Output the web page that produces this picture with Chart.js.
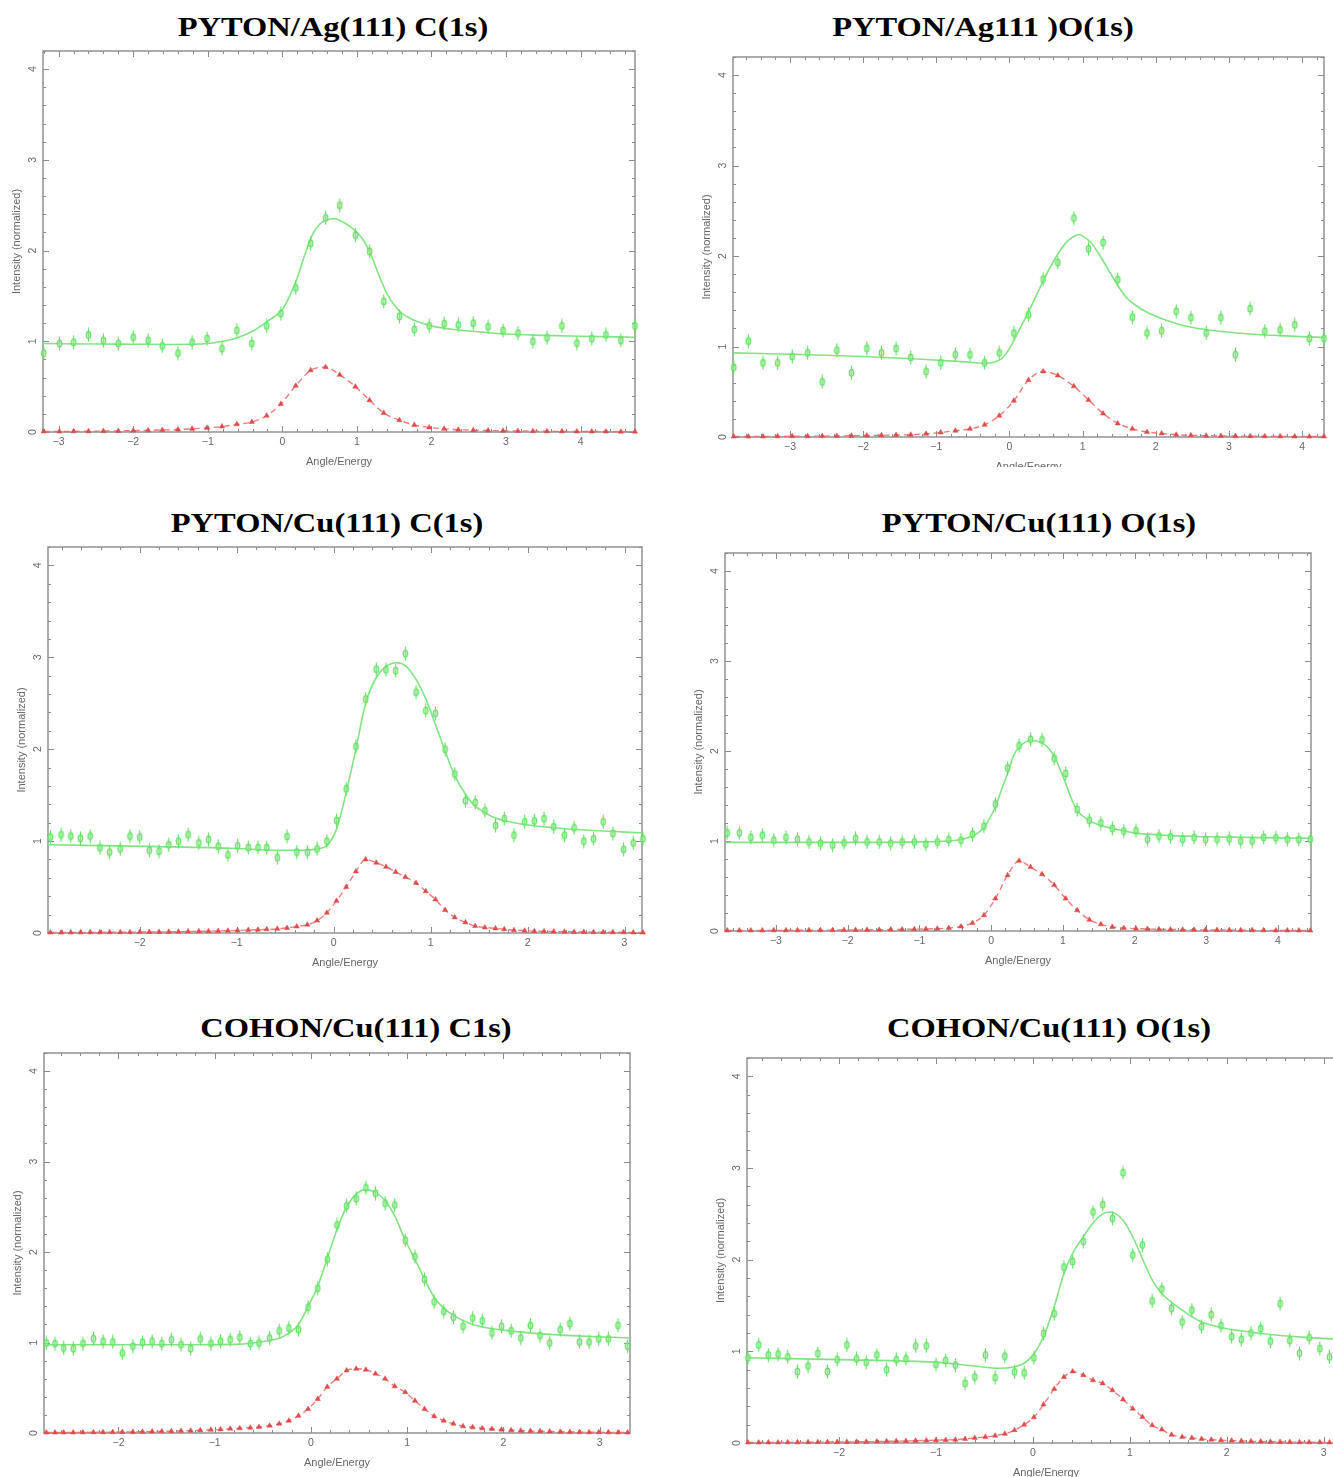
<!DOCTYPE html>
<html><head><meta charset="utf-8">
<script src="https://cdn.jsdelivr.net/npm/chart.js@4.4.1/dist/chart.umd.min.js"></script>
<style>
html,body{margin:0;padding:0;background:#fff;overflow:hidden;width:1333px;height:1477px;position:relative;}
.ttl{position:absolute;font-family:"Liberation Serif","Times New Roman",serif;font-weight:bold;font-size:28px;white-space:nowrap;transform:translate(-50%,-50%) scaleX(1.16);color:#000;line-height:1;}
canvas{position:absolute;}
</style></head><body>
<script>
// ---------------- DATA ----------------
const titles = ["PYTON/Ag(111) C(1s)", "PYTON/Ag111 )O(1s)", "PYTON/Cu(111) C(1s)", "PYTON/Cu(111) O(1s)", "COHON/Cu(111) C1s)", "COHON/Cu(111) O(1s)"];
const xTitle = "Angle/Energy";
const yTitle = "Intensity (normalized)";
const yTicks = [0, 1, 2, 3, 4];
const xTicks1 = [-3, -2, -1, 0, 1, 2, 3, 4];
const xTicks2 = [-3, -2, -1, 0, 1, 2, 3, 4];
const xTicks3 = [-2, -1, 0, 1, 2, 3];
const xTicks4 = [-3, -2, -1, 0, 1, 2, 3, 4];
const xTicks5 = [-2, -1, 0, 1, 2, 3];
const xTicks6 = [-2, -1, 0, 1, 2, 3];

// Panel 1: PYTON/Ag(111) C(1s)
const p1X = [-3.20,-2.99,-2.80,-2.60,-2.40,-2.20,-2.00,-1.80,-1.61,-1.40,-1.21,-1.01,-0.81,-0.61,-0.41,-0.21,-0.02,0.18,0.38,0.58,0.77,0.98,1.17,1.36,1.57,1.77,1.97,2.17,2.36,2.56,2.76,2.96,3.16,3.36,3.55,3.75,3.95,4.15,4.34,4.54,4.73];
const p1Exp = [0.87,0.975,0.99,1.07,1.01,0.975,1.045,1.01,0.95,0.87,0.99,1.03,0.92,1.12,0.975,1.17,1.305,1.59,2.08,2.36,2.50,2.17,1.99,1.44,1.275,1.13,1.17,1.195,1.18,1.20,1.16,1.12,1.09,1.00,1.04,1.17,0.98,1.03,1.07,1.01,1.17];
const p1Sim = [0.005,0.005,0.007,0.008,0.01,0.012,0.015,0.018,0.022,0.027,0.035,0.045,0.06,0.085,0.11,0.18,0.31,0.51,0.68,0.715,0.63,0.50,0.35,0.21,0.13,0.077,0.05,0.035,0.025,0.02,0.016,0.013,0.011,0.009,0.008,0.007,0.006,0.005,0.005,0.004,0.004];
const p1FitX = [-3.21,-2.5,-2.0,-1.5,-1.0,-0.8,-0.6,-0.4,-0.2,0.0,0.1,0.2,0.3,0.4,0.5,0.6,0.7,0.8,0.9,1.0,1.1,1.2,1.3,1.4,1.5,1.6,1.7,1.8,2.0,2.3,2.7,3.0,3.5,4.0,4.73];
const p1FitY = [0.975,0.97,0.968,0.965,0.975,1.0,1.04,1.11,1.22,1.35,1.5,1.7,1.95,2.17,2.29,2.34,2.35,2.32,2.27,2.2,2.1,1.93,1.72,1.53,1.40,1.31,1.26,1.22,1.17,1.13,1.10,1.08,1.065,1.055,1.045];

// Panel 2: PYTON/Ag111 )O(1s)
const p2X = [-3.77,-3.57,-3.37,-3.17,-2.97,-2.76,-2.56,-2.36,-2.16,-1.95,-1.75,-1.55,-1.35,-1.14,-0.94,-0.74,-0.54,-0.34,-0.14,0.06,0.26,0.46,0.66,0.88,1.08,1.28,1.48,1.68,1.88,2.08,2.28,2.48,2.69,2.89,3.09,3.29,3.49,3.70,3.90,4.10,4.30];
const p2Exp = [0.77,1.06,0.82,0.82,0.89,0.93,0.61,0.96,0.71,0.98,0.93,0.98,0.88,0.725,0.82,0.91,0.91,0.82,0.93,1.15,1.35,1.745,1.93,2.42,2.08,2.15,1.74,1.325,1.15,1.175,1.39,1.32,1.15,1.32,0.91,1.42,1.17,1.185,1.24,1.09,1.09];
const p2Sim = [0.005,0.005,0.006,0.007,0.008,0.009,0.01,0.012,0.014,0.016,0.02,0.022,0.025,0.035,0.05,0.07,0.09,0.135,0.235,0.40,0.63,0.725,0.68,0.56,0.41,0.26,0.15,0.09,0.055,0.04,0.025,0.018,0.014,0.012,0.01,0.009,0.008,0.007,0.006,0.005,0.005];
const p2FitX = [-3.78,-3.0,-2.0,-1.2,-0.6,-0.35,-0.2,-0.1,0.0,0.1,0.2,0.3,0.4,0.5,0.6,0.7,0.8,0.9,0.95,1.0,1.1,1.2,1.3,1.4,1.5,1.6,1.7,1.9,2.3,2.7,3.1,3.7,4.3];
const p2FitY = [0.93,0.915,0.89,0.86,0.83,0.815,0.83,0.87,0.98,1.13,1.29,1.45,1.62,1.79,1.94,2.07,2.17,2.225,2.235,2.22,2.16,2.05,1.92,1.78,1.65,1.54,1.47,1.37,1.25,1.185,1.15,1.12,1.10];

// Panel 3: PYTON/Cu(111) C(1s)
const p3X = [-2.92,-2.81,-2.71,-2.61,-2.51,-2.41,-2.31,-2.20,-2.10,-2.00,-1.90,-1.80,-1.70,-1.60,-1.50,-1.39,-1.29,-1.19,-1.09,-0.99,-0.88,-0.78,-0.69,-0.58,-0.48,-0.38,-0.27,-0.17,-0.07,0.03,0.13,0.23,0.33,0.44,0.54,0.64,0.74,0.85,0.95,1.05,1.15,1.25,1.36,1.46,1.56,1.67,1.76,1.86,1.97,2.07,2.17,2.27,2.38,2.48,2.58,2.68,2.78,2.88,2.99,3.09,3.19];
const p3Exp = [1.044,1.069,1.055,1.03,1.055,0.927,0.88,0.916,1.055,1.044,0.90,0.89,0.96,1.00,1.07,0.98,1.02,0.945,0.85,0.95,0.93,0.93,0.93,0.82,1.05,0.88,0.88,0.916,1.00,1.225,1.57,2.03,2.545,2.87,2.865,2.855,3.04,2.62,2.42,2.39,2.0,1.73,1.44,1.42,1.33,1.17,1.245,1.065,1.21,1.22,1.245,1.156,1.065,1.145,1.00,1.025,1.21,1.084,0.91,0.98,1.025];
const p3Sim = [0.005,0.005,0.006,0.006,0.007,0.007,0.008,0.008,0.009,0.01,0.011,0.012,0.013,0.014,0.016,0.018,0.02,0.022,0.025,0.028,0.032,0.036,0.04,0.045,0.055,0.07,0.09,0.135,0.22,0.35,0.50,0.67,0.80,0.765,0.72,0.665,0.61,0.545,0.455,0.365,0.25,0.17,0.115,0.075,0.06,0.05,0.04,0.03,0.025,0.02,0.018,0.016,0.014,0.012,0.011,0.01,0.009,0.008,0.007,0.006,0.005];
const p3FitX = [-2.945,-1.8,-1.0,-0.6,-0.3,-0.17,-0.07,0.03,0.13,0.23,0.33,0.44,0.54,0.65,0.74,0.85,0.95,1.05,1.15,1.25,1.36,1.46,1.56,1.67,1.86,2.27,2.68,3.18];
const p3FitY = [0.96,0.94,0.92,0.9,0.9,0.915,0.95,1.13,1.53,2.0,2.5,2.78,2.9,2.94,2.91,2.76,2.55,2.27,1.98,1.71,1.51,1.38,1.31,1.25,1.2,1.145,1.115,1.09];

// Panel 4: PYTON/Cu(111) O(1s)
const p4X = [-3.68,-3.51,-3.35,-3.19,-3.03,-2.86,-2.70,-2.54,-2.38,-2.21,-2.05,-1.89,-1.73,-1.56,-1.40,-1.24,-1.07,-0.91,-0.75,-0.59,-0.42,-0.26,-0.10,0.06,0.23,0.39,0.55,0.71,0.88,1.04,1.20,1.37,1.53,1.69,1.85,2.02,2.18,2.34,2.50,2.67,2.83,2.99,3.15,3.32,3.48,3.64,3.80,3.97,4.13,4.29,4.45];
const p4Exp = [1.09,1.09,1.04,1.065,1.01,1.04,1.02,0.99,0.975,0.955,0.98,1.03,0.99,0.99,0.975,0.99,0.99,0.965,0.99,1.015,1.01,1.075,1.165,1.41,1.81,2.06,2.13,2.125,1.92,1.75,1.35,1.23,1.2,1.14,1.11,1.115,1.02,1.055,1.047,1.02,1.04,1.017,1.02,1.025,1.0,1.0,1.04,1.036,1.02,1.017,1.02];
const p4Sim = [0.005,0.005,0.006,0.006,0.007,0.007,0.008,0.008,0.009,0.01,0.011,0.012,0.013,0.014,0.016,0.018,0.02,0.022,0.026,0.033,0.05,0.09,0.175,0.36,0.62,0.78,0.71,0.63,0.51,0.36,0.23,0.126,0.074,0.045,0.033,0.026,0.022,0.019,0.017,0.015,0.013,0.012,0.011,0.01,0.009,0.008,0.007,0.006,0.006,0.005,0.005];
const p4FitX = [-3.71,-2.0,-1.0,-0.6,-0.4,-0.26,-0.1,0.06,0.15,0.23,0.32,0.4,0.55,0.71,0.8,0.88,0.96,1.04,1.12,1.2,1.36,1.5,1.69,2.0,2.5,3.0,4.46];
const p4FitY = [0.985,0.985,0.99,1.0,1.02,1.055,1.15,1.38,1.58,1.75,1.96,2.05,2.12,2.09,2.03,1.94,1.8,1.64,1.47,1.34,1.23,1.18,1.14,1.09,1.06,1.047,1.03];

// Panel 5: COHON/Cu(111) C1s)
const p5X = [-2.75,-2.66,-2.57,-2.47,-2.37,-2.26,-2.16,-2.06,-1.96,-1.85,-1.75,-1.65,-1.55,-1.45,-1.35,-1.25,-1.15,-1.04,-0.94,-0.84,-0.74,-0.63,-0.54,-0.43,-0.33,-0.23,-0.13,-0.03,0.07,0.17,0.27,0.37,0.47,0.57,0.67,0.77,0.87,0.98,1.08,1.18,1.28,1.38,1.48,1.58,1.68,1.78,1.88,1.98,2.08,2.18,2.28,2.38,2.48,2.59,2.69,2.79,2.89,2.99,3.09,3.19,3.29];
const p5Exp = [0.995,0.988,0.94,0.933,0.988,1.043,1.014,1.006,0.885,0.96,1.003,1.014,0.988,1.032,0.977,0.933,1.04,0.988,1.014,1.032,1.058,0.988,0.995,1.05,1.13,1.16,1.143,1.39,1.60,1.92,2.30,2.51,2.59,2.71,2.65,2.54,2.52,2.13,1.95,1.70,1.45,1.345,1.28,1.18,1.27,1.24,1.106,1.18,1.13,1.05,1.19,1.076,0.995,1.143,1.21,1.006,1.006,1.04,1.04,1.19,0.96];
const p5Sim = [0.005,0.005,0.006,0.006,0.007,0.008,0.009,0.01,0.011,0.012,0.014,0.016,0.018,0.02,0.023,0.026,0.03,0.035,0.04,0.048,0.052,0.059,0.066,0.08,0.103,0.136,0.19,0.265,0.376,0.51,0.6,0.69,0.71,0.70,0.656,0.60,0.516,0.45,0.357,0.265,0.184,0.136,0.103,0.074,0.063,0.052,0.044,0.037,0.03,0.026,0.022,0.019,0.016,0.014,0.012,0.01,0.009,0.008,0.007,0.006,0.005];
const p5FitX = [-2.77,-1.5,-0.8,-0.6,-0.45,-0.3,-0.13,-0.03,0.07,0.17,0.27,0.37,0.47,0.57,0.67,0.77,0.87,0.98,1.08,1.18,1.28,1.38,1.48,1.68,1.98,2.48,3.31];
const p5FitY = [0.975,0.975,0.98,0.995,1.02,1.06,1.2,1.4,1.62,1.93,2.25,2.5,2.64,2.69,2.66,2.57,2.4,2.13,1.92,1.7,1.5,1.38,1.3,1.2,1.14,1.09,1.05];

// Panel 6: COHON/Cu(111) O(1s)
const p6X = [-2.94,-2.83,-2.73,-2.63,-2.53,-2.43,-2.32,-2.22,-2.12,-2.02,-1.92,-1.82,-1.72,-1.61,-1.51,-1.41,-1.31,-1.21,-1.10,-1.00,-0.90,-0.80,-0.70,-0.60,-0.49,-0.39,-0.29,-0.19,-0.09,0.01,0.11,0.22,0.32,0.41,0.52,0.62,0.72,0.82,0.93,1.03,1.13,1.23,1.33,1.43,1.54,1.64,1.74,1.84,1.94,2.05,2.15,2.25,2.35,2.45,2.55,2.65,2.75,2.85,2.96,3.06];
const p6Exp = [0.93,1.07,0.96,0.97,0.94,0.78,0.84,0.976,0.78,0.91,1.07,0.92,0.88,0.96,0.80,0.91,0.92,1.06,1.06,0.856,0.90,0.85,0.65,0.72,0.96,0.714,0.947,0.776,0.765,0.93,1.195,1.41,1.92,1.98,2.20,2.52,2.60,2.45,2.95,2.05,2.16,1.55,1.68,1.47,1.32,1.45,1.27,1.40,1.28,1.16,1.13,1.20,1.25,1.11,1.52,1.12,0.98,1.15,1.03,0.94];
const p6Sim = [0.005,0.005,0.006,0.006,0.007,0.007,0.008,0.009,0.01,0.011,0.012,0.013,0.014,0.016,0.018,0.02,0.022,0.025,0.028,0.031,0.033,0.036,0.044,0.055,0.066,0.08,0.1,0.14,0.2,0.28,0.42,0.59,0.72,0.78,0.74,0.685,0.65,0.575,0.475,0.375,0.284,0.193,0.146,0.09,0.066,0.055,0.044,0.036,0.03,0.026,0.022,0.019,0.016,0.014,0.012,0.01,0.009,0.008,0.007,0.006];
const p6FitX = [-2.95,-2.0,-1.0,-0.6,-0.35,-0.2,-0.09,0.01,0.11,0.22,0.32,0.41,0.52,0.62,0.72,0.8,0.93,1.03,1.13,1.23,1.33,1.54,1.74,1.94,2.35,2.85,3.22];
const p6FitY = [0.93,0.91,0.88,0.84,0.815,0.83,0.87,0.97,1.16,1.49,1.85,2.07,2.25,2.4,2.5,2.52,2.43,2.25,2.01,1.78,1.63,1.45,1.32,1.26,1.195,1.15,1.13];

// ---------------- LAYOUT (page px) ----------------
const panels = [
  {title: titles[0], tc:[333,27], box:[42.5,51,634,432], xr:[-3.21,4.73], xt:xTicks1, X:p1X, E:p1Exp, S:p1Sim, FX:p1FitX, FY:p1FitY},
  {title: titles[1], tc:[983,27], box:[732.5,57,1323,437], xr:[-3.78,4.30], xt:xTicks2, X:p2X, E:p2Exp, S:p2Sim, FX:p2FitX, FY:p2FitY, cutBottom:467},
  {title: titles[2], tc:[327,523], box:[48,547,642,933], xr:[-2.945,3.18], xt:xTicks3, X:p3X, E:p3Exp, S:p3Sim, FX:p3FitX, FY:p3FitY},
  {title: titles[3], tc:[1039,523], box:[725,553,1311,931], xr:[-3.71,4.46], xt:xTicks4, X:p4X, E:p4Exp, S:p4Sim, FX:p4FitX, FY:p4FitY},
  {title: titles[4], tc:[356,1028], box:[44,1053,629.5,1433], xr:[-2.774,3.315], xt:xTicks5, X:p5X, E:p5Exp, S:p5Sim, FX:p5FitX, FY:p5FitY},
  {title: titles[5], tc:[1049,1028], box:[747,1058,1345,1443], xr:[-2.95,3.22], xt:xTicks6, X:p6X, E:p6Exp, S:p6Sim, FX:p6FitX, FY:p6FitY}
];

const GREEN = '#62e062';
const GREEN_LINE = '#80e580';
const RED = '#e04a4a';
const RED_LINE = 'rgba(235,110,110,0.9)';

// green data marker: small ellipse with an error bar
function makeMarker() {
  const c = document.createElement('canvas');
  c.width = 9; c.height = 15;
  const g = c.getContext('2d');
  g.strokeStyle = GREEN; g.lineWidth = 1.1;
  g.beginPath(); g.moveTo(4.5, 0.5); g.lineTo(4.5, 14.5); g.stroke();
  g.fillStyle = 'rgba(150,235,150,0.6)';
  g.beginPath(); g.ellipse(4.5, 7.5, 2.3, 3.4, 0, 0, Math.PI*2); g.fill(); g.stroke();
  return c;
}
const marker = makeMarker();

function fmt(v) { return v < 0 ? '\u2212' + Math.abs(v) : String(v); }

const framePlugin = {
  id: 'frame',
  beforeDatasetsDraw(chart, args, o) {
    const {ctx, chartArea: a} = chart;
    const x = chart.scales.x, y = chart.scales.y;
    ctx.save();
    ctx.strokeStyle = '#8a8a8a';
    ctx.lineWidth = 1.4;
    ctx.strokeRect(a.left, a.top, a.right - a.left, a.bottom - a.top);
    ctx.lineWidth = 1;
    ctx.beginPath();
    const x0 = Math.ceil(x.min * 5 - 1e-6);
    for (let k = x0; k / 5 <= x.max + 1e-9; k++) {
      const v = k / 5, px = Math.round(x.getPixelForValue(v)) + 0.5;
      const L = (k % 5 === 0) ? 6 : 3;
      ctx.moveTo(px, a.bottom); ctx.lineTo(px, a.bottom - L);
      ctx.moveTo(px, a.top); ctx.lineTo(px, a.top + L);
    }
    const y0 = Math.ceil(y.min * 5 - 1e-6);
    for (let k = y0; k / 5 <= y.max + 1e-9; k++) {
      const v = k / 5, py = Math.round(y.getPixelForValue(v)) + 0.5;
      const L = (k % 5 === 0) ? 6 : 3;
      ctx.moveTo(a.left, py); ctx.lineTo(a.left + L, py);
      ctx.moveTo(a.right, py); ctx.lineTo(a.right - L, py);
    }
    ctx.stroke();
    ctx.fillStyle = '#666';
    ctx.font = '10.5px "Liberation Sans", Arial, sans-serif';
    ctx.textAlign = 'center';
    ctx.textBaseline = 'middle';
    o.xTicks.forEach(v => ctx.fillText(fmt(v), x.getPixelForValue(v), a.bottom + 10));
    o.yTicks.forEach(v => {
      ctx.save();
      ctx.translate(a.left - 10, y.getPixelForValue(v));
      ctx.rotate(-Math.PI / 2);
      ctx.fillText(fmt(v), 0, 0);
      ctx.restore();
    });
    ctx.font = '11px "Liberation Sans", Arial, sans-serif';
    ctx.fillText(o.xTitle, (a.left + a.right) / 2, a.bottom + 30);
    ctx.save();
    ctx.translate(a.left - 26, (a.top + a.bottom) / 2);
    ctx.rotate(-Math.PI / 2);
    ctx.fillText(o.yTitle, 0, 0);
    ctx.restore();
    ctx.restore();
  }
};

panels.forEach((p, i) => {
  const t = document.createElement('div');
  t.className = 'ttl';
  t.textContent = p.title;
  t.style.left = p.tc[0] + 'px';
  t.style.top = p.tc[1] + 'px';
  document.body.appendChild(t);

  const [l, tp, r, b] = p.box;
  const padL = 45, padT = 8, padR = 10;
  const cl = l - padL, ct = tp - padT;
  const w = Math.round(r - l + padL + padR);
  const bottomEdge = p.cutBottom || (b + 40);
  const h = Math.round(bottomEdge - ct);
  const padB = h - padT - (b - tp);
  const cv = document.createElement('canvas');
  cv.width = w; cv.height = h;
  cv.style.left = cl + 'px'; cv.style.top = ct + 'px';
  cv.style.width = w + 'px'; cv.style.height = h + 'px';
  document.body.appendChild(cv);

  const pts = (xs, ys) => xs.map((xv, k) => ({x: xv, y: ys[k]}));
  new Chart(cv.getContext('2d'), {
    type: 'line',
    data: {
      datasets: [
        {label: 'data', data: pts(p.X, p.E), showLine: false, pointStyle: marker, pointRadius: 5, borderColor: GREEN, backgroundColor: GREEN, clip: false},
        {label: 'fit', data: pts(p.FX, p.FY), borderColor: GREEN_LINE, borderWidth: 1.6, pointRadius: 0, cubicInterpolationMode: 'monotone', fill: false, clip: false},
        {label: 'sim', data: pts(p.X, p.S), borderColor: RED_LINE, borderWidth: 1.4, borderDash: [6, 4], pointStyle: 'triangle', pointRadius: 3, pointBackgroundColor: RED, pointBorderColor: RED, pointBorderWidth: 0.5, cubicInterpolationMode: 'monotone', fill: false, clip: false}
      ]
    },
    options: {
      responsive: false,
      animation: false,
      devicePixelRatio: 1,
      layout: {padding: {left: padL, top: padT, right: padR, bottom: padB}},
      scales: {
        x: {type: 'linear', min: p.xr[0], max: p.xr[1], display: false},
        y: {type: 'linear', min: 0, max: 4.2, display: false}
      },
      plugins: {
        legend: {display: false},
        tooltip: {enabled: false},
        frame: {xTicks: p.xt, yTicks: yTicks, xTitle: xTitle, yTitle: yTitle}
      },
      events: []
    },
    plugins: [framePlugin]
  });
});
</script>
</body></html>
